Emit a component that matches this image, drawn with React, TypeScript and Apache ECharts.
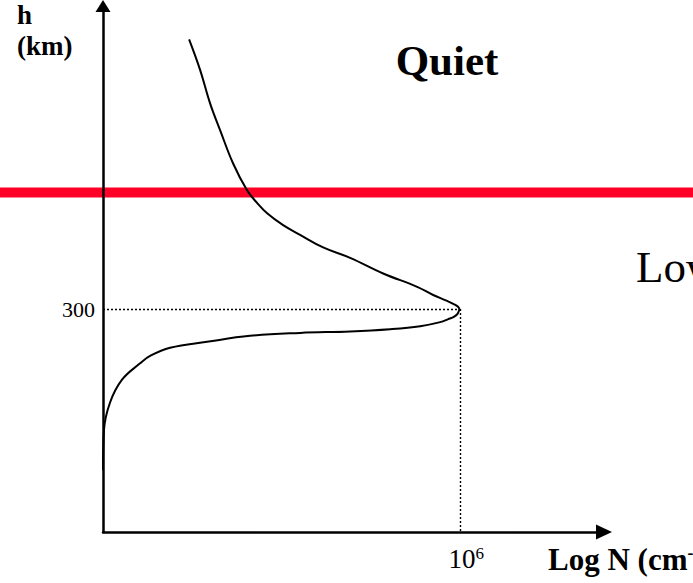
import React, { useEffect, useRef } from "react";
import * as echarts from "echarts";

// Electron density profile: log10 N (cm^-3) against height h (km),
// listed from the bottom of the layer up through the peak to the topside
const logN: number[] = [
  2.0, 2.011, 2.078, 2.213, 2.415, 2.527, 2.751, 3.165, 3.647, 4.207, 4.767,
  5.216, 5.552, 5.776, 5.866, 5.933, 5.972, 5.99,
  5.972, 5.933, 5.854, 5.697, 5.518, 5.137, 4.767, 4.465, 4.207, 4.017, 3.838,
  3.725, 3.613, 3.457, 3.311, 3.199, 3.087, 2.964,
];
const heightKm: number[] = [
  83, 137, 174, 205, 227, 237, 248, 256, 264, 268, 270,
  273, 277, 282.5, 286.5, 290, 294, 300,
  303.5, 306.5, 311, 319, 330, 348, 369, 383, 400, 413, 429,
  443, 460, 496, 541, 577, 622, 663,
];

// Peak of the layer and the boundary height marked in red
const peakLogN = 6;
const peakH = 300;
const boundaryH = 457;

// Axis ranges and labelled ticks
const xRange = [2, 7.61];
const yRange = [0, 708];
const yTickLabels = [300];
const xTickLabels = [6];

const SERIF = "'Liberation Serif', 'Times New Roman', serif";
const W = 693;
const H = 583;

export default function App() {
  const ref = useRef<HTMLDivElement>(null);

  useEffect(() => {
    if (!ref.current) return;
    const chart = echarts.init(ref.current, null, { renderer: "svg" });

    const points = logN.map((x, i) => [x, heightKm[i]]);

    // y is the text baseline; zrender's "bottom" sits about 0.22em below it
    const label = (text: string, x: number, baseline: number, size: number, bold: boolean, align = "left") => ({
      type: "text",
      silent: true,
      style: {
        x,
        y: baseline + size * 0.22,
        text,
        font: `${bold ? "bold " : ""}${size}px ${SERIF}`,
        textAlign: align,
        textVerticalAlign: "bottom",
        fill: "#000",
      },
    });

    const texts: any[] = [
      label("h", 17, 23, 27, true),
      label("(km)", 17, 54, 27, true),
      label("Quiet", 447, 73, 43, true, "center"),
      label("Low", 636, 280, 45, false),
      {
        type: "text",
        silent: true,
        style: {
          x: 548,
          y: 568 + 31 * 0.22,
          text: "{m|Log N (cm}{s|-3}{m|)}",
          rich: {
            m: { font: `bold 31px ${SERIF}`, fill: "#000" },
            s: { font: `bold 18px ${SERIF}`, fill: "#000", verticalAlign: "top" },
          },
          textAlign: "left",
          textVerticalAlign: "bottom",
        },
      },
    ];

    chart.setOption({
      animation: false,
      backgroundColor: "#fff",
      grid: { left: 103, right: 89, top: 6, bottom: 51, containLabel: false },
      xAxis: {
        type: "value",
        min: xRange[0],
        max: xRange[1],
        interval: 1,
        splitLine: { show: false },
        axisTick: { show: false },
        axisLine: {
          onZero: false,
          symbol: ["none", "triangle"],
          symbolSize: [15, 16],
          lineStyle: { color: "#000", width: 2.5 },
        },
        axisLabel: {
          margin: 13,
          color: "#000",
          padding: [0, 0, 0, 12],
          formatter: (v: number) =>
            xTickLabels.includes(v) ? `{n|10}{s|${v}}` : "",
          rich: {
            n: { fontFamily: SERIF, fontSize: 27, color: "#000" },
            s: { fontFamily: SERIF, fontSize: 17, color: "#000", verticalAlign: "top" },
          },
        },
      },
      yAxis: {
        type: "value",
        min: yRange[0],
        max: yRange[1],
        interval: 300,
        splitLine: { show: false },
        axisTick: { show: false },
        axisLine: {
          onZero: false,
          symbol: ["none", "triangle"],
          symbolSize: [15, 12],
          lineStyle: { color: "#000", width: 2.5 },
        },
        axisLabel: {
          margin: 8,
          color: "#000",
          fontFamily: SERIF,
          fontSize: 22,
          formatter: (v: number) => (yTickLabels.includes(v) ? String(v) : ""),
        },
      },
      series: [
        {
          type: "line",
          data: points,
          smooth: 0.4,
          showSymbol: false,
          symbol: "none",
          lineStyle: { color: "#000", width: 2 },
          silent: true,
          z: 3,
          markLine: {
            silent: true,
            symbol: ["none", "none"],
            label: { show: false },
            lineStyle: { color: "#000", width: 1.4, type: [2, 2] },
            emphasis: { disabled: true },
            data: [
              [{ coord: [xRange[0], peakH] }, { coord: [peakLogN, peakH] }],
              [{ coord: [peakLogN, peakH] }, { coord: [peakLogN, yRange[0]] }],
            ],
          },
        },
      ],
      graphic: texts,
    });

    // Boundary line spans the full width, beneath the axes and the profile
    const yRed = chart.convertToPixel({ yAxisIndex: 0 }, boundaryH) as number;
    chart.setOption({
      graphic: [
        ...texts,
        {
          type: "line",
          z: -10,
          silent: true,
          shape: { x1: 0, y1: yRed, x2: W, y2: yRed },
          style: { stroke: "#ff0026", lineWidth: 10 },
        },
      ],
    });

    return () => chart.dispose();
  }, []);

  return (
    <div
      ref={ref}
      style={{ position: "fixed", left: 0, top: 0, width: W, height: H }}
    />
  );
}
